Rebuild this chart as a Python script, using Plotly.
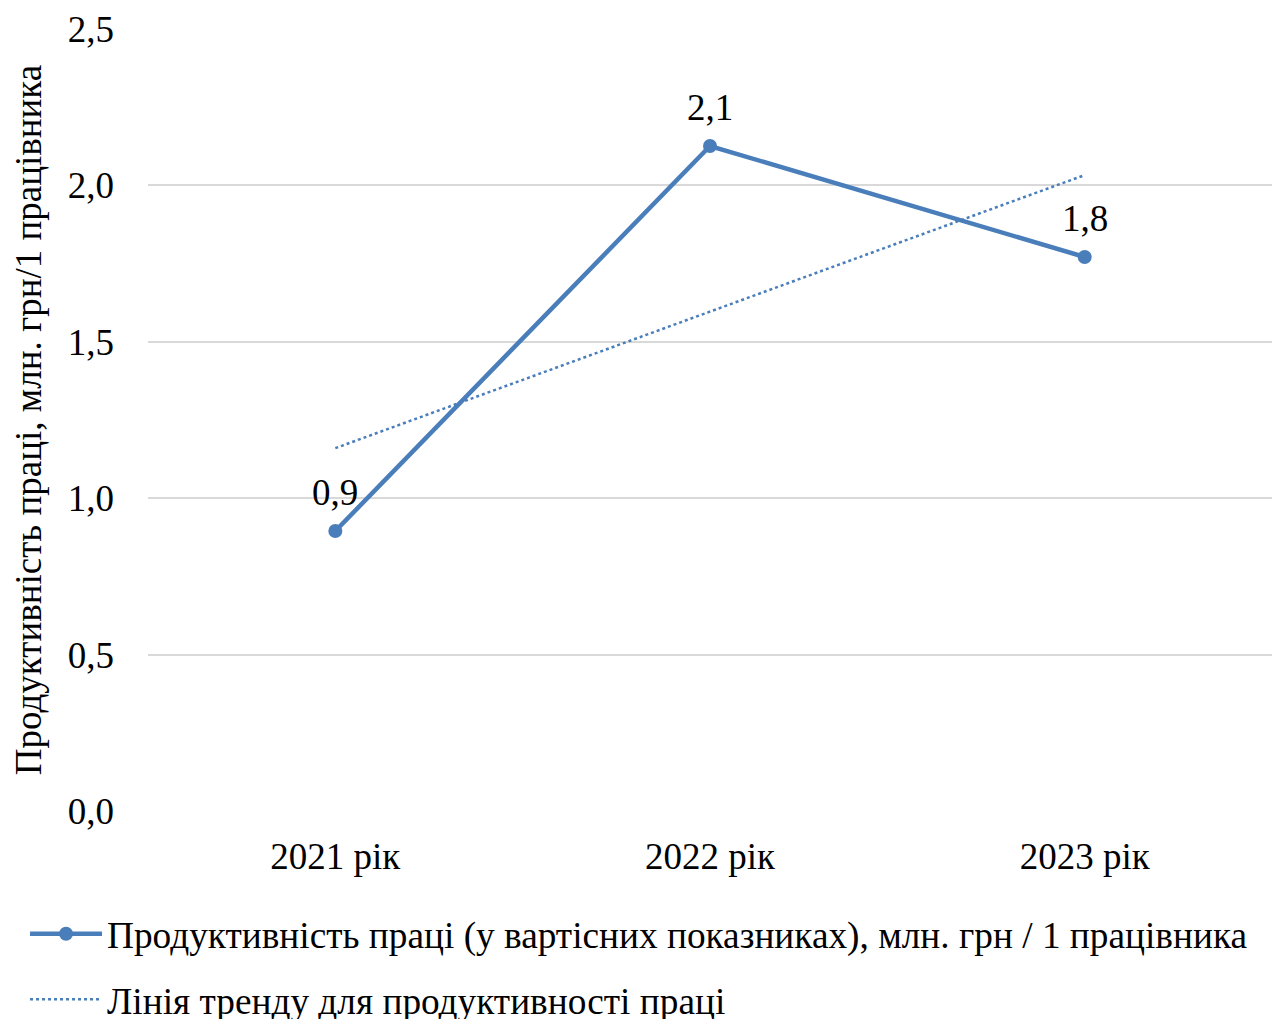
import plotly.graph_objects as go

categories = ["2021 рік", "2022 рік", "2023 рік"]
productivity = [0.895, 2.126, 1.771]
trend = [1.16, 1.597, 2.033]
y_ticks = [0.0, 0.5, 1.0, 1.5, 2.0, 2.5]

series_name = "Продуктивність праці (у вартісних показниках), млн. грн / 1 працівника"
trend_name = "Лінія тренду для продуктивності праці"
y_title = "Продуктивність праці, млн. грн/1 працівника"

color = "#4A7EBB"
font = "Liberation Serif"
fs = 37

fig = go.Figure()
fig.add_trace(go.Scatter(
    x=categories, y=productivity, name=series_name,
    mode="lines+markers",
    line=dict(color=color, width=4.5),
    marker=dict(color=color, size=14),
    legendgroup="a",
))
fig.add_trace(go.Scatter(
    x=categories, y=trend, name=trend_name,
    mode="lines",
    line=dict(color=color, width=2.5, dash="dot"),
    legendgroup="b",
))
for c, v in zip(categories, productivity):
    fig.add_annotation(
        x=c, y=v, text=f"{v:.1f}".replace(".", ","),
        showarrow=False, yanchor="bottom", yshift=16,
        font=dict(family=font, size=fs, color="black"),
    )

fig.update_layout(
    width=1280, height=1019,
    margin=dict(l=148, r=8, t=29, b=208, autoexpand=False),
    paper_bgcolor="white", plot_bgcolor="white",
    separators=", ",
    font=dict(family=font, size=fs, color="black"),
    showlegend=True,
    legend=dict(
        orientation="v", xref="paper", yref="paper",
        x=-0.1094, y=-0.1176, xanchor="left", yanchor="top",
        font=dict(family=font, size=37.3, color="black"),
        itemwidth=72, traceorder="grouped", tracegroupgap=14,
        bgcolor="rgba(0,0,0,0)",
    ),
)
fig.update_xaxes(
    type="category", range=[-0.5, 2.5],
    showgrid=False, showline=False, zeroline=False,
    ticks="", ticklabelstandoff=20,
    tickfont=dict(family=font, size=fs, color="black"),
)
fig.update_yaxes(
    range=[0, 2.5], tickvals=y_ticks, tickformat=".1f",
    showgrid=True, gridcolor="#D9D9D9", gridwidth=1.5,
    zeroline=False, showline=False, ticks="",
    ticklabelstandoff=33,
    tickfont=dict(family=font, size=fs, color="black"),
    title=dict(text=y_title, standoff=14, font=dict(family=font, size=fs, color="black")),
)

fig.write_html(
    "out.html",
    config={"displayModeBar": False},
    post_script="document.body.style.margin='0';document.body.style.overflow='hidden';",
)
